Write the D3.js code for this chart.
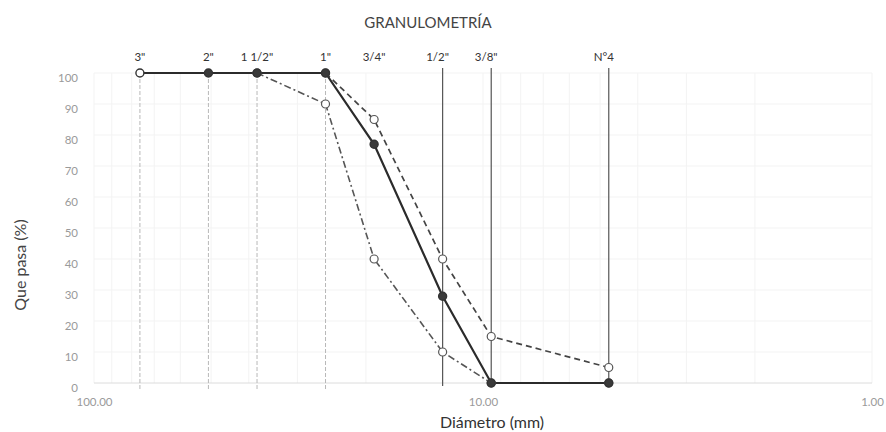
<!DOCTYPE html>
<html>
<head>
<meta charset="utf-8">
<script src="https://cdn.jsdelivr.net/npm/d3@7"></script>
<style>
  body { margin: 0; background: #fff; }
  svg { display: block; font-family: Lato, "Open Sans", sans-serif; }
</style>
</head>
<body>
<svg width="886" height="432"></svg>
<script>
// sieve data
const sieves = ['3"', '2"', '1 1/2"', '1"', '3/4"', '1/2"', '3/8"', 'N°4'];
const openings = [76.2, 50.8, 38.1, 25.4, 19.05, 12.7, 9.525, 4.75];
const passing = [100, 100, 100, 100, 77, 28, 0, 0];
const upperLimit = [null, null, null, 100, 85, 40, 15, 5];
const lowerLimit = [null, null, 100, 90, 40, 10, 0, 0];
const xTicks = [100, 10, 1];
const yTicks = [0, 10, 20, 30, 40, 50, 60, 70, 80, 90, 100];

const svg = d3.select("svg");

const x = d3.scaleLog().domain([100, 1]).range([94, 872]);
const y = d3.scaleLinear().domain([0, 100]).range([383, 73]);

// faint background grid
const minor = [];
[1, 10].forEach(dec => d3.range(1, 10).forEach(k => minor.push(dec * k)));
minor.push(100);

svg.append("g")
    .selectAll("line")
    .data(minor)
    .enter()
    .append("line")
    .attr("x1", d => x(d)).attr("x2", d => x(d))
    .attr("y1", y(100)).attr("y2", y(0))
    .attr("stroke", "#f3f3f3");

svg.append("g")
    .selectAll("line")
    .data(yTicks)
    .enter()
    .append("line")
    .attr("x1", x(100)).attr("x2", x(1))
    .attr("y1", d => y(d)).attr("y2", d => y(d))
    .attr("stroke", d => d === 0 ? "#dcdcdc" : "#f3f3f3");

// drop lines for each sieve
const darkDrops = new Set(['1/2"', '3/8"', 'N°4']);
const noDrop = new Set(['3/4"']);

svg.append("g")
    .selectAll("line")
    .data(sieves.map((s, i) => ({ s, d: openings[i] })).filter(o => !noDrop.has(o.s)))
    .enter()
    .append("line")
    .attr("x1", o => x(o.d)).attr("x2", o => x(o.d))
    .attr("y1", o => darkDrops.has(o.s) ? y(100) - 5 : y(100))
    .attr("y2", o => darkDrops.has(o.s) ? y(0) + 3 : y(0) + 8)
    .attr("stroke", o => darkDrops.has(o.s) ? "#555" : "#b8b8b8")
    .attr("stroke-width", o => darkDrops.has(o.s) ? 1.2 : 1)
    .attr("stroke-dasharray", o => darkDrops.has(o.s) ? null : "4,2");

// sieve names on top
svg.append("g")
    .selectAll("text")
    .data(sieves)
    .enter()
    .append("text")
    .attr("x", (s, i) => x(openings[i]) - (darkDrops.has(s) ? 5 : 0))
    .attr("y", 61)
    .attr("text-anchor", "middle")
    .attr("font-size", 11.5)
    .attr("fill", "#333")
    .text(s => s);

// axes
const xAxis = svg.append("g")
    .attr("transform", `translate(0,${y(0)})`)
    .call(d3.axisBottom(x).tickValues(xTicks).tickFormat(d3.format(".2f")).tickSize(0).tickPadding(15));
xAxis.select(".domain").remove();
xAxis.selectAll("text").attr("font-family", "Lato, sans-serif").attr("font-size", 11.5).attr("fill", "#9a9a9a");

const yAxis = svg.append("g")
    .attr("transform", `translate(${x(100)},5)`)
    .call(d3.axisLeft(y).tickValues(yTicks).tickSize(0).tickPadding(16));
yAxis.select(".domain").remove();
yAxis.selectAll("text").attr("font-family", "Lato, sans-serif").attr("font-size", 11.5).attr("fill", "#9a9a9a");

// series
function series(values) {
    return openings.map((d, i) => ({ d, v: values[i] })).filter(p => p.v !== null);
}

const line = d3.line().x(p => x(p.d)).y(p => y(p.v));

svg.append("path")
    .datum(series(lowerLimit))
    .attr("d", line)
    .attr("fill", "none")
    .attr("stroke", "#555")
    .attr("stroke-width", 1.6)
    .attr("stroke-dasharray", "7,3,2,3");

svg.append("path")
    .datum(series(upperLimit))
    .attr("d", line)
    .attr("fill", "none")
    .attr("stroke", "#444")
    .attr("stroke-width", 1.7)
    .attr("stroke-dasharray", "6,4");

svg.append("path")
    .datum(series(passing))
    .attr("d", line)
    .attr("fill", "none")
    .attr("stroke", "#2b2b2b")
    .attr("stroke-width", 2.2);

// markers
[lowerLimit, upperLimit].forEach(vals => {
    svg.append("g")
        .selectAll("circle")
        .data(series(vals))
        .enter()
        .append("circle")
        .attr("cx", p => x(p.d))
        .attr("cy", p => y(p.v))
        .attr("r", 4)
        .attr("fill", "#fff")
        .attr("stroke", "#555")
        .attr("stroke-width", 1.2);
});

svg.append("g")
    .selectAll("circle")
    .data(series(passing))
    .enter()
    .append("circle")
    .attr("cx", p => x(p.d))
    .attr("cy", p => y(p.v))
    .attr("r", 4)
    .attr("fill", (p, i) => i === 0 ? "#fff" : "#3a3a3a")
    .attr("stroke", "#333")
    .attr("stroke-width", 1.4);

// titles
svg.append("text")
    .attr("x", 428).attr("y", 28)
    .attr("text-anchor", "middle")
    .attr("font-size", 15)
    .attr("fill", "#444")
    .text("GRANULOMETRÍA");

svg.append("text")
    .attr("x", x(10) + 9).attr("y", 428)
    .attr("text-anchor", "middle")
    .attr("font-size", 16)
    .attr("fill", "#333")
    .text("Diámetro (mm)");

svg.append("text")
    .attr("transform", "translate(26,265) rotate(-90)")
    .attr("text-anchor", "middle")
    .attr("font-size", 16)
    .attr("fill", "#444")
    .text("Que pasa (%)");
</script>
</body>
</html>
